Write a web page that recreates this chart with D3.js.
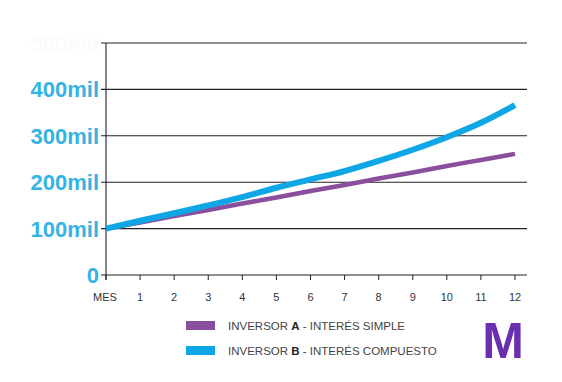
<!DOCTYPE html>
<html><head><meta charset="utf-8">
<script src="https://cdn.jsdelivr.net/npm/d3@7"></script>
<style>body{margin:0;background:#fff}svg{display:block}</style>
</head><body><svg id="c" width="562" height="382"></svg>
<script>
const months = [0,1,2,3,4,5,6,7,8,9,10,11,12];
const monthLabels = ["MES","1","2","3","4","5","6","7","8","9","10","11","12"];
const seriesA = [100,113,127,140,154,167,181,194,208,221,235,248,261];
const seriesB = [100,117,133,150,168,188,206,224,246,270,297,328,366];
const yTicks = [0,100,200,300,400,500];
const yTickLabels = ["0","100mil","200mil","300mil","400mil","500mil"];
const legendNames = [["INVERSOR ","A"," - INTERÉS SIMPLE"],["INVERSOR ","B"," - INTERÉS COMPUESTO"]];
const colors = ["#8a4e9e","#0fa6e6"];

const svg = d3.select("#c");
const x = d3.scaleLinear().domain([0,12]).range([106,515]);
const y = d3.scaleLinear().domain([0,500]).range([275,43]);

// gridlines
svg.append("g").selectAll("line").data(yTicks).join("line")
  .attr("x1",101).attr("x2",527).attr("y1",d=>y(d)).attr("y2",d=>y(d))
  .attr("stroke","#222").attr("stroke-width",1.1);
// y axis line
svg.append("line").attr("x1",x(0)).attr("x2",x(0)).attr("y1",y(500)).attr("y2",y(0)+5)
  .attr("stroke","#222").attr("stroke-width",1.1);
// x ticks
svg.append("g").selectAll("line").data(months).join("line")
  .attr("x1",d=>x(d)).attr("x2",d=>x(d)).attr("y1",y(0)).attr("y2",y(0)+5)
  .attr("stroke","#222").attr("stroke-width",1);
// x labels
svg.append("g").selectAll("text").data(months).join("text")
  .attr("x",(d,i)=>i===0?x(d)-1:x(d)).attr("y",301)
  .attr("text-anchor","middle").attr("font-family","Liberation Sans, Arial, sans-serif")
  .attr("font-size",11).attr("fill","#333").text((d,i)=>monthLabels[i]);
// y labels
svg.append("g").selectAll("text").data(yTicks).join("text")
  .attr("x",99).attr("y",d=>y(d)+8)
  .attr("text-anchor","end").attr("font-family","Liberation Sans, Arial, sans-serif")
  .attr("font-weight","bold").attr("font-size",22)
  .attr("fill",d=>d===500?"#fbfbfb":"#35b3e4").text((d,i)=>yTickLabels[i]);

// lines
const line = d3.line().x((d,i)=>x(months[i])).y(d=>y(d)).curve(d3.curveMonotoneX);
svg.append("path").datum(seriesA).attr("d",line).attr("fill","none")
  .attr("stroke",colors[0]).attr("stroke-width",4.5);
svg.append("path").datum(seriesB).attr("d",line).attr("fill","none")
  .attr("stroke",colors[1]).attr("stroke-width",6);
// legend
const lg = svg.append("g").selectAll("g").data(legendNames).join("g")
  .attr("transform",(d,i)=>`translate(186,${321+i*25})`);
lg.append("rect").attr("width",29).attr("height",9).attr("fill",(d,i)=>colors[i]);
const lt = lg.append("text").attr("x",42).attr("y",9)
  .attr("font-family","Liberation Sans, Arial, sans-serif").attr("font-size",11.5).attr("fill","#444");
lt.append("tspan").text(d=>d[0]);
lt.append("tspan").attr("font-weight","bold").attr("fill","#222").text(d=>d[1]);
lt.append("tspan").text(d=>d[2]);
// logo
svg.append("text").attr("x",503).attr("y",358).attr("text-anchor","middle")
  .attr("font-family","Liberation Sans, Arial, sans-serif").attr("font-weight","bold")
  .attr("font-size",50).attr("fill","#6a2eb0").text("M");
</script></body></html>
